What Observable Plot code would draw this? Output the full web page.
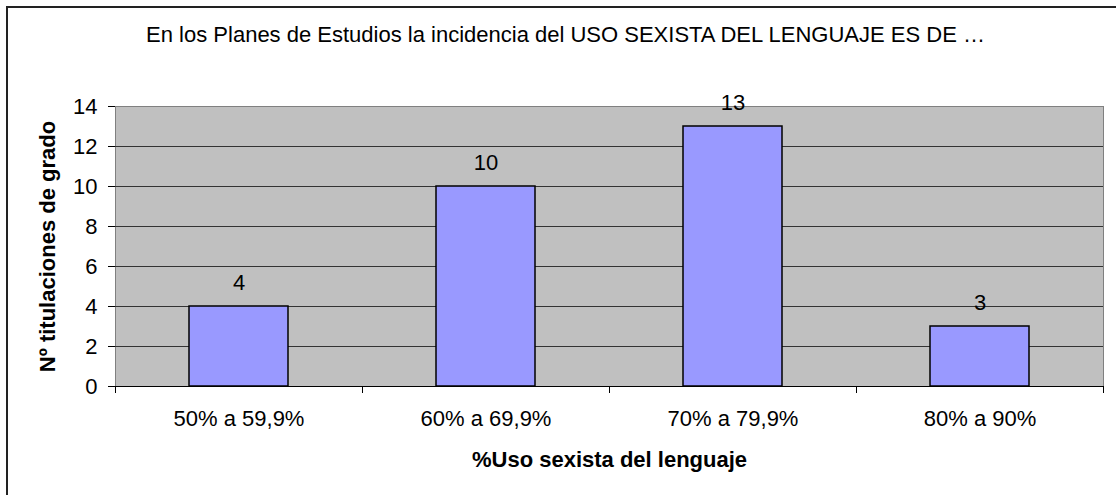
<!DOCTYPE html>
<html><head><meta charset="utf-8">
<script src="https://cdn.jsdelivr.net/npm/d3@7"></script>
<script src="https://cdn.jsdelivr.net/npm/@observablehq/plot@0.6"></script>
<style>
body{margin:0;background:#fff}
#chart{position:relative;width:1116px;height:495px;overflow:hidden;background:#fff}
#frame{position:absolute;left:6px;top:6px;width:1300px;height:700px;border-left:2px solid #222;border-top:2px solid #222;pointer-events:none}
</style>
</head><body><div id="chart"><div id="frame"></div></div>
<script>
const title = "En los Planes de Estudios la incidencia del USO SEXISTA DEL LENGUAJE ES DE …";
const categories = ["50% a 59,9%", "60% a 69,9%", "70% a 79,9%", "80% a 90%"];
const values = [4, 10, 13, 3];
const yTicks = [0, 2, 4, 6, 8, 10, 12, 14];
const xLabel = "%Uso sexista del lenguaje";
const yLabel = "Nº titulaciones de grado";

const data = categories.map((c, i) => ({cat: c, value: values[i]}));
const W = 1116, H = 495, mL = 115, mR = 13, mT = 106, mB = 109;
const step = (W - mL - mR) / categories.length;
const FS = 22;

const chart = Plot.plot({
  width: W, height: H,
  marginLeft: mL, marginRight: mR, marginTop: mT, marginBottom: mB,
  style: {fontFamily: "'Liberation Sans', Arial, sans-serif", fontSize: FS + "px", color: "#000", background: "transparent", overflow: "visible"},
  x: {domain: categories, paddingInner: 0.6, paddingOuter: 0.3, label: null},
  y: {domain: [0, 14], ticks: yTicks, label: null},
  marks: [
    Plot.frame({fill: "#c0c0c0", stroke: "#808080"}),
    Plot.ruleY(yTicks.filter(d => d > 0 && d < 14), {stroke: "#333"}),
    Plot.barY(data, {x: "cat", y: "value", fill: "#9999ff", stroke: "#000", strokeWidth: 1.5}),
    Plot.ruleY([0], {stroke: "#000"}),
    Plot.ruleX(categories, {x: d => d, dx: -step / 2, y1: 0, y2: -0.35, stroke: "#000", clip: false}),
    Plot.ruleX([categories[categories.length - 1]], {x: d => d, dx: step / 2, y1: 0, y2: -0.35, stroke: "#000", clip: false}),
    Plot.text(data, {x: "cat", y: "value", text: d => String(d.value), dy: -24, fontSize: FS, fill: "#000"}),
    Plot.axisY({ticks: yTicks, tickSize: 7, tickPadding: 11, fontSize: FS, label: null, tickFormat: d => String(d), stroke: "#000"}),
    Plot.axisX({tickSize: 0, tickPadding: 24, fontSize: FS, label: null}),
    Plot.text([xLabel], {frameAnchor: "bottom", lineAnchor: "middle", dy: 73, fontWeight: "bold", fontSize: FS, fill: "#000"}),
    Plot.text([yLabel], {frameAnchor: "left", textAnchor: "middle", rotate: -90, dx: -68, fontWeight: "bold", fontSize: FS, fill: "#000"}),
    Plot.text([title], {frameAnchor: "top", lineAnchor: "middle", dx: -44, dy: -72, fontSize: FS, fill: "#000"})
  ]
});
document.getElementById("chart").prepend(chart);
</script>
</body></html>
